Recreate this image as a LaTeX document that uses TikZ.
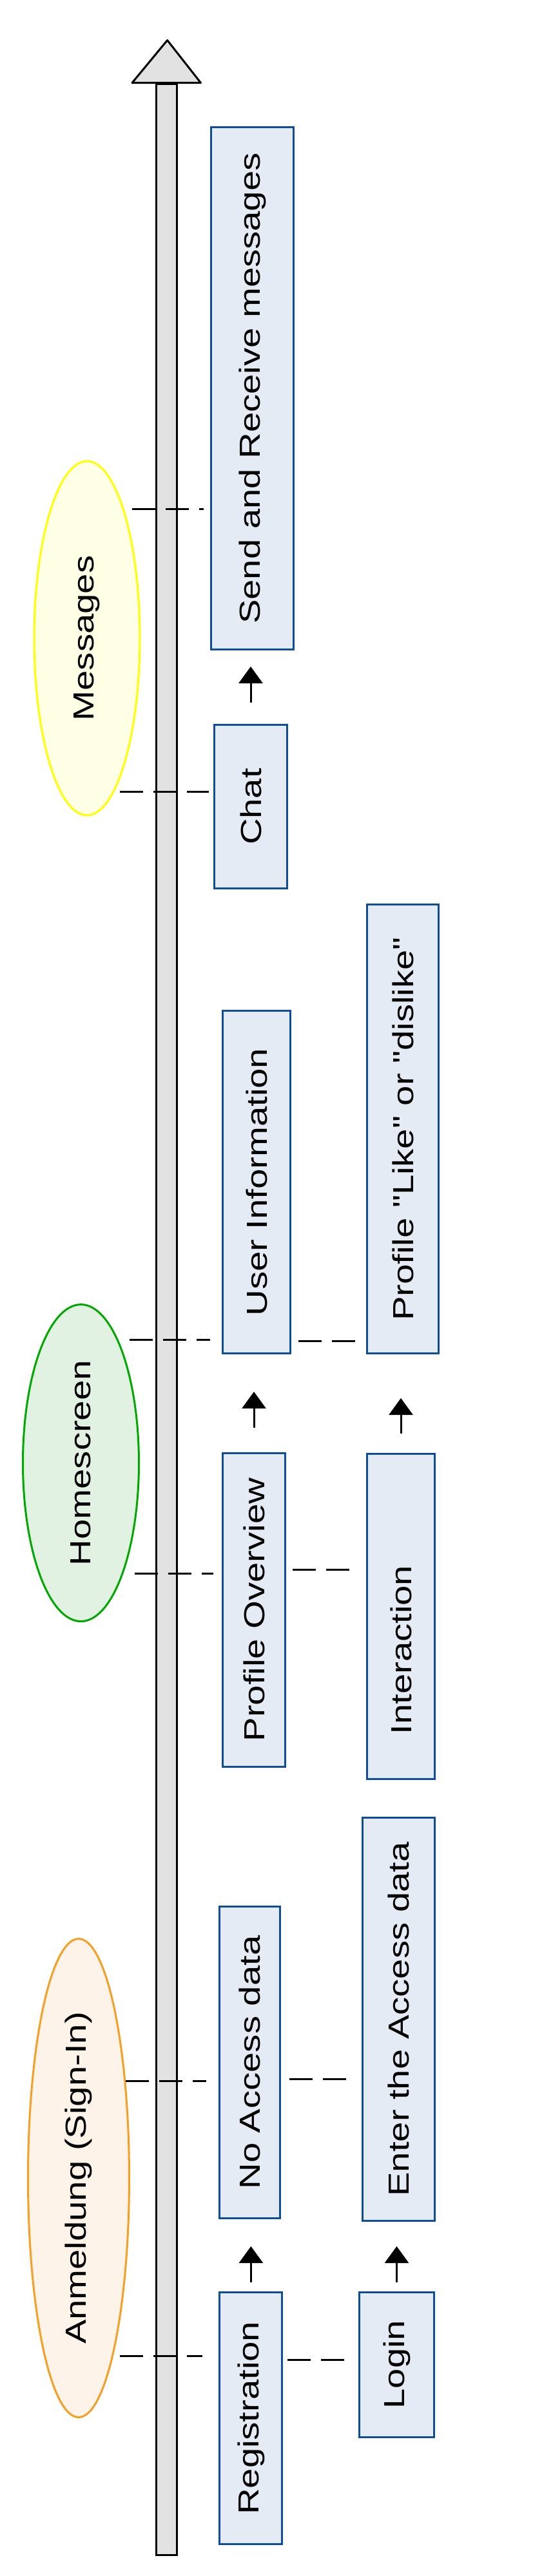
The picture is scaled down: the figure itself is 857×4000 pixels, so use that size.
\documentclass[tikz,border=0pt]{standalone}
\usepackage{fontspec}
\newfontfamily\handfont{Liberation Sans}[FakeStretch=1.25]
\usetikzlibrary{shapes.geometric, arrows.meta, calc}
\definecolor{boxfill}{RGB}{228,235,244}
\definecolor{boxdraw}{RGB}{14,76,156}
\definecolor{shaftgray}{RGB}{226,226,226}
\definecolor{msgdraw}{RGB}{255,255,0}
\definecolor{msgfill}{RGB}{255,255,230}
\definecolor{homedraw}{RGB}{0,168,0}
\definecolor{homefill}{RGB}{226,242,226}
\definecolor{anmdraw}{RGB}{247,158,36}
\definecolor{anmfill}{RGB}{253,243,233}
\begin{document}
\begin{tikzpicture}[x=1pt, y=-1pt,
  txt/.style={font=\handfont\fontsize{45}{50}\selectfont, text=black},
  box/.style={draw=boxdraw, fill=boxfill, line width=3pt, inner sep=0pt, txt},
  ell/.style={ellipse, line width=3pt, inner sep=0pt},
  dashline/.style={line width=3pt, dash pattern=on 36pt off 16pt},
  flow/.style={line width=3pt, -{Triangle[width=37pt,length=26pt]}}]
\useasboundingbox (0,0) rectangle (857,4000);
% timeline
\draw[line width=3pt, fill=shaftgray] (242.6,130) rectangle (274.9,3967);
\draw[line width=3pt, fill=shaftgray, line join=round] (205,128.6) -- (259.6,62.5) -- (311.5,128.6) -- cycle;
% phases
\node[ell, draw=msgdraw, fill=msgfill, minimum width=164pt, minimum height=550pt,
  label={[txt, rotate=90]center:Messages}] (msg) at (135,991) {};
\node[ell, draw=homedraw, fill=homefill, minimum width=180pt, minimum height=492pt,
  label={[txt, rotate=90]center:Homescreen}] (home) at (125.5,2271.6) {};
\node[ell, draw=anmdraw, fill=anmfill, minimum width=157pt, minimum height=743pt,
  label={[txt, rotate=90]center:Anmeldung (Sign-In)}] (anm) at (122,3382) {};
% steps
\node[box, minimum width=128pt, minimum height=811pt] (send) at (391.5,603) {\rotatebox{90}{Send and Receive messages}};
\node[box, minimum width=113pt, minimum height=254pt] (chat) at (389,1252.5) {\rotatebox{90}{Chat}};
\node[box, minimum width=105pt, minimum height=532pt] (userinfo) at (398,1835.5) {\rotatebox{90}{User Information}};
\node[box, minimum width=111pt, minimum height=697pt] (like) at (625,1753) {\rotatebox{90}{Profile "Like" or "dislike"}};
\node[box, minimum width=97pt, minimum height=487pt] (overview) at (394,2499.5) {\rotatebox{90}{Profile Overview}};
\node[box, minimum width=105pt, minimum height=505pt] (interaction) at (622,2510) {\rotatebox{90}{Interaction\hspace{104pt}}};
\node[box, minimum width=94pt, minimum height=484pt] (noaccess) at (387.7,3202.5) {\rotatebox{90}{No Access data}};
\node[box, minimum width=112pt, minimum height=626pt] (enter) at (618.5,3135.5) {\rotatebox{90}{Enter the Access data}};
\node[box, minimum width=97pt, minimum height=391pt] (reg) at (389.4,3754.7) {\rotatebox{90}{Registration}};
\node[box, minimum width=116pt, minimum height=225pt] (login) at (615.5,3671.6) {\rotatebox{90}{Login}};
% dashed links phase -> step
\draw[dashline, shorten <=13pt, shorten >=10pt] (msg.74) -- (send.west |- msg.74);
\draw[dashline, shorten <=9pt, shorten >=7pt] (msg.-80) -- (chat.west |- msg.-80);
\draw[dashline, shorten <=17pt, shorten >=18pt] (home.73) -- (userinfo.west |- home.73);
\draw[dashline, shorten <=18pt, shorten >=13pt] (home.-69) -- (overview.west |- home.-69);
\draw[dashline, shorten <=0pt, shorten >=19pt] (anm.64) -- (noaccess.west |- anm.64);
\draw[dashline, shorten <=10pt, shorten >=25pt] (anm.-79) -- (reg.west |- anm.-79);
% dashed links step -> step
\draw[dashline] ($(userinfo.south east)+(11,-21)$) -- ($(like.south west)+(-6,-21)$);
\draw[dashline] ($(overview.east)+(10,-62)$) -- ($(overview.east -| interaction.west)+(-14,-62)$);
\draw[dashline] ($(noaccess.east)+(13,25.5)$) -- ($(noaccess.east -| enter.west)+(-10,25.5)$);
\draw[dashline] ($(reg.east)+(7,-90)$) -- ($(reg.east -| login.west)+(-9,-90)$);
% flow arrows
\draw[flow, shorten <=33pt, shorten >=25pt] (chat.north) -- (chat.north |- send.south);
\draw[flow, shorten <=38pt, shorten >=58pt] (overview.north) -- (overview.north |- userinfo.south);
\draw[flow, shorten <=30pt, shorten >=68pt] (interaction.north) -- (interaction.north |- like.south);
\draw[flow, shorten <=14pt, shorten >=42pt] (reg.north) -- (reg.north |- noaccess.south);
\draw[flow, shorten <=14pt, shorten >=38pt] (login.north) -- (login.north |- enter.south);
\end{tikzpicture}
\end{document}
